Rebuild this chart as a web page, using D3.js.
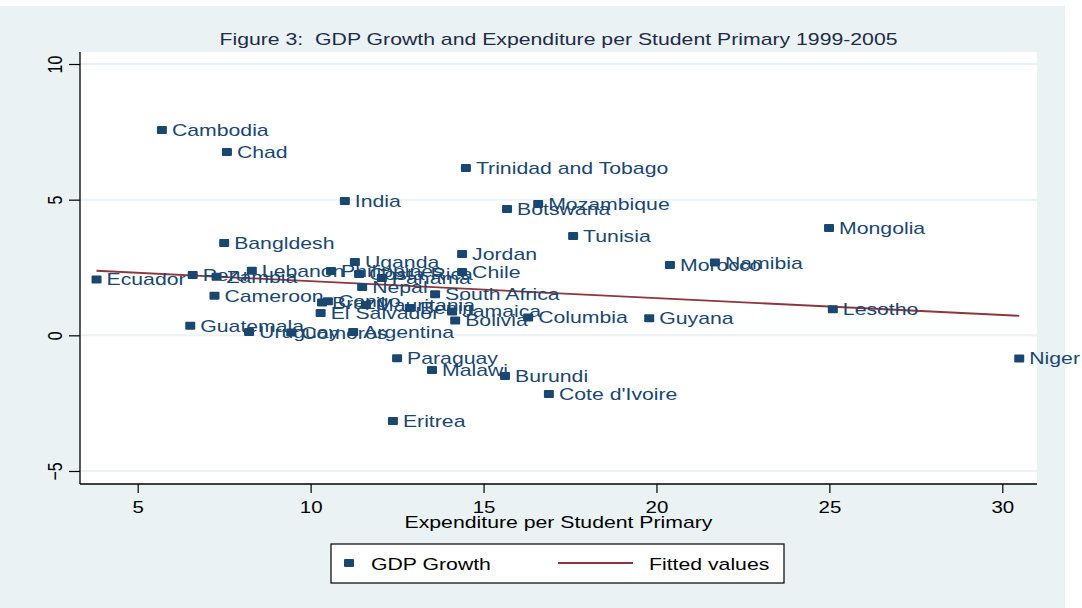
<!DOCTYPE html>
<html>
<head>
<meta charset="utf-8">
<script src="https://cdn.jsdelivr.net/npm/d3@7"></script>
<style>
  html, body { margin: 0; padding: 0; background: #ffffff; }
  svg { display: block; }
  text { font-family: "Liberation Sans", Arial, Helvetica, sans-serif; white-space: pre; }
</style>
</head>
<body>
<div id="chart"></div>
<script>
// ---------------- data ----------------
const countries = [
  "Cambodia", "Chad", "Trinidad and Tobago", "India", "Botswana", "Mozambique",
  "Mongolia", "Tunisia", "Bangldesh", "Jordan", "Uganda", "Chile",
  "Lebanon", "Philippines", "Costa Rica", "Panama", "Nepal", "South Africa",
  "Peru", "Zambia", "Ecuador", "Cameroon", "Brazil", "Congo",
  "Mauritania", "Benin", "Jamaica", "El Salvador", "Bolivia", "Columbia",
  "Guatemala", "Uruguay", "Comoros", "Argentina", "Morocco", "Namibia",
  "Guyana", "Lesotho", "Niger", "Paraguay", "Malawi", "Burundi",
  "Cote d'Ivoire", "Eritrea"
];
const expenditure = [
  5.70, 7.58, 14.49, 10.99, 15.68, 16.58,
  24.99, 17.59, 7.50, 14.38, 11.28, 14.38,
  8.30, 10.59, 11.40, 12.06, 11.49, 13.60,
  6.59, 7.28, 3.81, 7.22, 10.33, 10.50,
  11.60, 12.87, 14.09, 10.29, 14.18, 16.29,
  6.52, 8.22, 9.44, 11.23, 20.39, 21.69,
  19.79, 25.10, 30.49, 12.50, 13.51, 15.62,
  16.89, 12.38
];
const gdpGrowth = [
  7.57, 6.76, 6.17, 4.95, 4.66, 4.84,
  3.96, 3.66, 3.40, 3.00, 2.70, 2.33,
  2.38, 2.37, 2.26, 2.11, 1.78, 1.51,
  2.22, 2.16, 2.06, 1.46, 1.21, 1.26,
  1.12, 1.01, 0.88, 0.82, 0.55, 0.66,
  0.35, 0.12, 0.10, 0.12, 2.59, 2.68,
  0.63, 0.96, -0.85, -0.84, -1.28, -1.50,
  -2.16, -3.16
];
const fittedX = [3.81, 30.49];
const fittedY = [2.38, 0.72];
const xTicks = [5, 10, 15, 20, 25, 30];
const yTicks = [-5, 0, 5, 10];
const titleText = "Figure 3:  GDP Growth and Expenditure per Student Primary 1999-2005";
const xTitle = "Expenditure per Student Primary";
const legendLabels = ["GDP Growth", "Fitted values"];

// ---------------- layout ----------------
const W = 1082, H = 608;
const SX = 1.28;               // horizontal stretch of the original graphic
const plot = { left: 80, right: 1037, top: 52, bottom: 484 };
const navy = "#1a476f", maroon = "#90353b", bg = "#eaf2f3";

const x = d3.scaleLinear().domain([5, 30]).range([137.7, 1002.3]);
const y = d3.scaleLinear().domain([-5, 10]).range([471, 64]);

const svg = d3.select("#chart").append("svg").attr("width", W).attr("height", H);

// outer background
svg.append("rect").attr("x", 0).attr("y", 6).attr("width", 1065).attr("height", H - 6).attr("fill", bg);
// plot region
svg.append("rect").attr("x", plot.left).attr("y", plot.top)
  .attr("width", plot.right - plot.left).attr("height", plot.bottom - plot.top).attr("fill", "#ffffff");

// grid lines
svg.append("g").selectAll("line").data(yTicks).join("line")
  .attr("x1", plot.left).attr("x2", plot.right)
  .attr("y1", d => y(d)).attr("y2", d => y(d))
  .attr("stroke", bg).attr("stroke-width", 2);

function stretchedText(g, tx, ty, str, size, color, anchor) {
  return g.append("text")
    .attr("transform", `translate(${tx},${ty}) scale(${SX},1)`)
    .attr("font-size", size).attr("fill", color)
    .attr("text-anchor", anchor || "start")
    .attr("xml:space", "preserve")
    .text(str);
}

// title
stretchedText(svg, (plot.left + plot.right) / 2, 45, titleText, 16.6, "#1f2b47", "middle");

// x axis
const xAxis = svg.append("g").attr("transform", `translate(0,${plot.bottom})`)
  .call(d3.axisBottom(x).tickValues(xTicks).tickSize(9).tickSizeOuter(0).tickFormat(d3.format("d")));
xAxis.select(".domain").remove();
xAxis.append("line").attr("x1", plot.left).attr("x2", plot.right).attr("stroke", "#000").attr("stroke-width", 1.3);
xAxis.selectAll(".tick line").attr("stroke", "#000").attr("stroke-width", 1.2);
xAxis.selectAll(".tick text")
  .attr("y", null).attr("dy", null)
  .attr("transform", `translate(0,29) scale(${SX},1)`)
  .attr("font-size", 16).attr("fill", "#000")
  .attr("font-family", "Liberation Sans, Arial, Helvetica, sans-serif");

// y axis
const yAxis = svg.append("g").attr("transform", `translate(${plot.left},0)`)
  .call(d3.axisLeft(y).tickValues(yTicks).tickSize(11).tickSizeOuter(0).tickFormat(d3.format("d")));
yAxis.select(".domain").remove();
yAxis.append("line").attr("y1", plot.top).attr("y2", plot.bottom).attr("stroke", "#000").attr("stroke-width", 1.3);
yAxis.selectAll(".tick line").attr("stroke", "#000").attr("stroke-width", 1.2);
yAxis.selectAll(".tick text")
  .attr("x", null).attr("dy", null)
  .attr("text-anchor", "middle")
  .attr("transform", `translate(-18,0) scale(${SX},1) rotate(-90)`)
  .attr("font-size", 16).attr("fill", "#000")
  .attr("font-family", "Liberation Sans, Arial, Helvetica, sans-serif");

// x axis title
stretchedText(svg, (plot.left + plot.right) / 2, 528, xTitle, 16.6, "#000", "middle");

// fitted line
const line = d3.line().x(d => x(d[0])).y(d => y(d[1]));
svg.append("path").datum(fittedX.map((v, i) => [v, fittedY[i]]))
  .attr("d", line).attr("fill", "none").attr("stroke", maroon).attr("stroke-width", 1.8);

// points + labels
const pts = countries.map((c, i) => ({ c, ex: expenditure[i], g: gdpGrowth[i] }));
const gp = svg.append("g");
gp.selectAll("rect").data(pts).join("rect")
  .attr("x", d => x(d.ex) - 5).attr("y", d => y(d.g) - 4)
  .attr("width", 10).attr("height", 8).attr("rx", 1)
  .attr("fill", navy);
const gl = svg.append("g");
pts.forEach(d => stretchedText(gl, x(d.ex) + 10, y(d.g) + 6, d.c, 16.6, navy));

// legend
const lg = svg.append("g");
lg.append("rect").attr("x", 331).attr("y", 544).attr("width", 453).attr("height", 39)
  .attr("fill", "#fff").attr("stroke", "#000").attr("stroke-width", 1.2);
lg.append("rect").attr("x", 344).attr("y", 559).attr("width", 10).attr("height", 8).attr("rx", 1).attr("fill", navy);
stretchedText(lg, 371, 570, legendLabels[0], 16.6, "#000");
lg.append("line").attr("x1", 558).attr("x2", 633).attr("y1", 563).attr("y2", 563)
  .attr("stroke", maroon).attr("stroke-width", 1.8);
stretchedText(lg, 649, 570, legendLabels[1], 16.6, "#000");
</script>
</body>
</html>
